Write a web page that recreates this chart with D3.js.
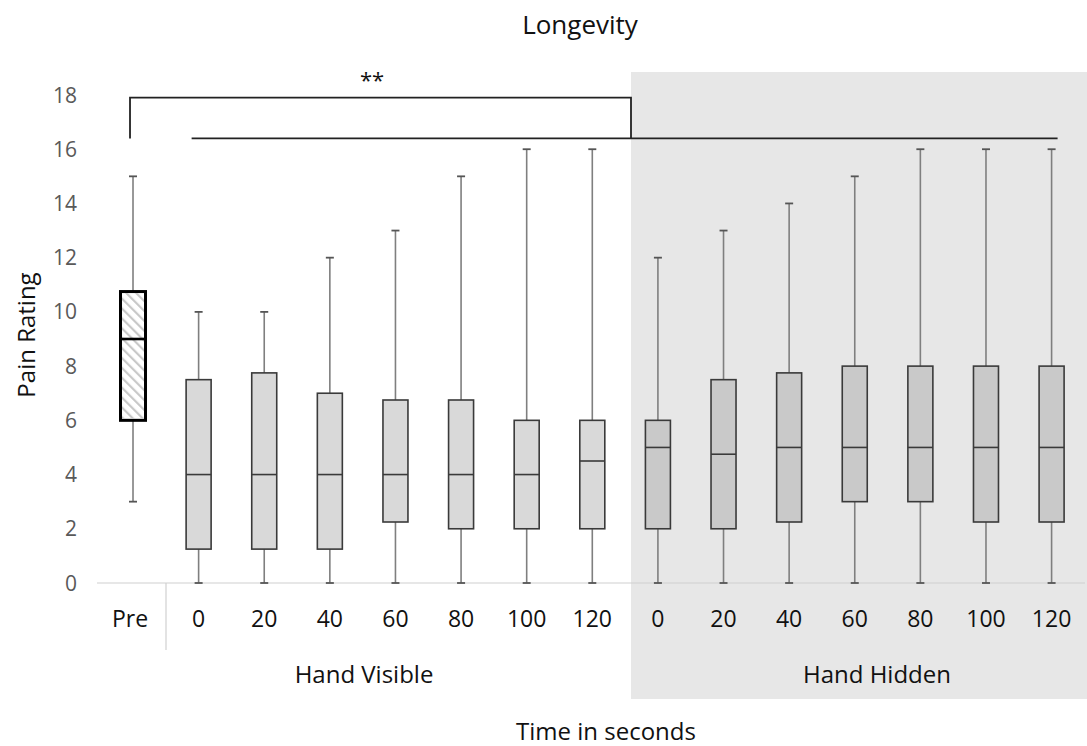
<!DOCTYPE html>
<html>
<head>
<meta charset="utf-8">
<script src="https://cdn.jsdelivr.net/npm/d3@7"></script>
<style>
  body { margin: 0; background: #fff; }
  text { font-family: "Open Sans", sans-serif; }
</style>
</head>
<body>
<svg id="chart"></svg>
<script>
// Box plot data
var keys    = ["pre", "v0", "v20", "v40", "v60", "v80", "v100", "v120",
               "h0", "h20", "h40", "h60", "h80", "h100", "h120"];
var labels  = ["Pre", "0", "20", "40", "60", "80", "100", "120",
               "0", "20", "40", "60", "80", "100", "120"];
var groups  = ["pre", "visible", "visible", "visible", "visible", "visible", "visible", "visible",
               "hidden", "hidden", "hidden", "hidden", "hidden", "hidden", "hidden"];
var mins    = [3, 0, 0, 0, 0, 0, 0, 0, 0, 0, 0, 0, 0, 0, 0];
var q1s     = [6, 1.25, 1.25, 1.25, 2.25, 2, 2, 2, 2, 2, 2.25, 3, 3, 2.25, 2.25];
var medians = [9, 4, 4, 4, 4, 4, 4, 4.5, 5, 4.75, 5, 5, 5, 5, 5];
var q3s     = [10.75, 7.5, 7.75, 7, 6.75, 6.75, 6, 6, 6, 7.5, 7.75, 8, 8, 8, 8];
var maxs    = [15, 10, 10, 12, 13, 15, 16, 16, 12, 13, 14, 15, 16, 16, 16];
var yTicks  = [0, 2, 4, 6, 8, 10, 12, 14, 16, 18];

var width = 1087, height = 746;

var svg = d3.select("#chart")
  .attr("width", width)
  .attr("height", height);

var x = d3.scaleBand()
  .domain(keys)
  .range([100.2, 1084.4]);

var y = d3.scaleLinear()
  .domain([0, 18])
  .range([583, 95]);

var cx = function(k) { return x(k) + x.bandwidth() / 2; };

// shaded "hand hidden" panel
svg.append("rect")
  .attr("x", 631).attr("y", 72)
  .attr("width", width - 631).attr("height", 627)
  .style("fill", "#e7e7e7");

// hatch pattern for the Pre box
var defs = svg.append("defs");
defs.append("pattern")
  .attr("id", "hatch")
  .attr("patternUnits", "userSpaceOnUse")
  .attr("width", 7).attr("height", 7)
  .attr("patternTransform", "rotate(-45)")
  .append("rect")
  .attr("width", 2.2).attr("height", 7)
  .style("fill", "#c8c8c8");

// axis line
svg.append("line")
  .attr("x1", 97).attr("x2", 1085)
  .attr("y1", y(0)).attr("y2", y(0))
  .style("stroke", "#d0d0d0").style("stroke-width", 1.2);

// separator below Pre
svg.append("line")
  .attr("x1", 166).attr("x2", 166)
  .attr("y1", y(0)).attr("y2", 650)
  .style("stroke", "#d0d0d0").style("stroke-width", 1.2);

// y tick labels
svg.selectAll(".ytick")
  .data(yTicks).enter()
  .append("text")
  .attr("x", 77)
  .attr("y", function(d) { return y(d); })
  .attr("dy", "0.36em")
  .style("text-anchor", "end")
  .style("font-size", "21px")
  .style("fill", "#595959")
  .text(function(d) { return d; });

var rows = keys.map(function(k, i) {
  return { key: k, label: labels[i], group: groups[i],
           min: mins[i], q1: q1s[i], med: medians[i], q3: q3s[i], max: maxs[i] };
});

var boxW = 25;
var box = svg.selectAll(".box")
  .data(rows).enter()
  .append("g");

// whiskers
box.append("line")
  .attr("x1", function(d) { return cx(d.key); })
  .attr("x2", function(d) { return cx(d.key); })
  .attr("y1", function(d) { return y(d.max); })
  .attr("y2", function(d) { return y(d.min); })
  .style("stroke", "#7f7f7f").style("stroke-width", 1.6);

box.selectAll(".cap")
  .data(function(d) { return [d.min, d.max].map(function(v) { return { key: d.key, v: v }; }); })
  .enter().append("line")
  .attr("x1", function(d) { return cx(d.key) - 4; })
  .attr("x2", function(d) { return cx(d.key) + 4; })
  .attr("y1", function(d) { return y(d.v); })
  .attr("y2", function(d) { return y(d.v); })
  .style("stroke", "#555").style("stroke-width", 1.8);

// boxes
box.append("rect")
  .attr("x", function(d) { return cx(d.key) - boxW / 2; })
  .attr("width", boxW)
  .attr("y", function(d) { return y(d.q3); })
  .attr("height", function(d) { return y(d.q1) - y(d.q3); })
  .style("fill", function(d) {
    return d.group == "pre" ? "#fff" : (d.group == "hidden" ? "#c9c9c9" : "#d9d9d9");
  })
  .style("stroke", function(d) { return d.group == "pre" ? "#000" : "#3a3a3a"; })
  .style("stroke-width", function(d) { return d.group == "pre" ? 3 : 1.6; });

box.filter(function(d) { return d.group == "pre"; })
  .append("rect")
  .attr("x", function(d) { return cx(d.key) - boxW / 2 + 1.5; })
  .attr("width", boxW - 3)
  .attr("y", function(d) { return y(d.q3) + 1.5; })
  .attr("height", function(d) { return y(d.q1) - y(d.q3) - 3; })
  .style("fill", "url(#hatch)");

// medians
box.append("line")
  .attr("x1", function(d) { return cx(d.key) - boxW / 2; })
  .attr("x2", function(d) { return cx(d.key) + boxW / 2; })
  .attr("y1", function(d) { return y(d.med); })
  .attr("y2", function(d) { return y(d.med); })
  .style("stroke", function(d) { return d.group == "pre" ? "#000" : "#3a3a3a"; })
  .style("stroke-width", function(d) { return d.group == "pre" ? 2.6 : 1.6; });

// category labels
svg.selectAll(".xlab")
  .data(rows).enter()
  .append("text")
  .attr("x", function(d) { return cx(d.key) - (d.group == "pre" ? 3 : 0); })
  .attr("y", 627)
  .style("text-anchor", "middle")
  .style("font-size", "23px")
  .style("fill", "#111")
  .text(function(d) { return d.label; });

// significance brackets
var bx0 = cx("pre") - 3, bx1 = 631;
svg.append("path")
  .attr("d", "M" + bx0 + "," + y(16.4) + "V" + y(17.9) + "H" + bx1 + "V" + y(16.4))
  .style("fill", "none").style("stroke", "#222").style("stroke-width", 1.8);
svg.append("line")
  .attr("x1", cx("v0") - 7).attr("x2", cx("h120") + 6)
  .attr("y1", y(16.4)).attr("y2", y(16.4))
  .style("stroke", "#222").style("stroke-width", 1.8);
svg.append("text")
  .attr("x", 372).attr("y", 88)
  .style("text-anchor", "middle")
  .style("font-size", "22px")
  .style("fill", "#111")
  .text("**");

// group labels, titles
svg.append("text")
  .attr("x", 364).attr("y", 683)
  .style("text-anchor", "middle").style("font-size", "24px").style("fill", "#111")
  .text("Hand Visible");
svg.append("text")
  .attr("x", 877).attr("y", 683)
  .style("text-anchor", "middle").style("font-size", "24px").style("fill", "#111")
  .text("Hand Hidden");
svg.append("text")
  .attr("x", 580).attr("y", 34)
  .style("text-anchor", "middle").style("font-size", "26px").style("fill", "#111")
  .text("Longevity");
svg.append("text")
  .attr("x", 606).attr("y", 740)
  .style("text-anchor", "middle").style("font-size", "24px").style("fill", "#111")
  .text("Time in seconds");
svg.append("text")
  .attr("transform", "translate(35,335) rotate(-90)")
  .style("text-anchor", "middle").style("font-size", "24px").style("fill", "#111")
  .text("Pain Rating");
</script>
</body>
</html>
